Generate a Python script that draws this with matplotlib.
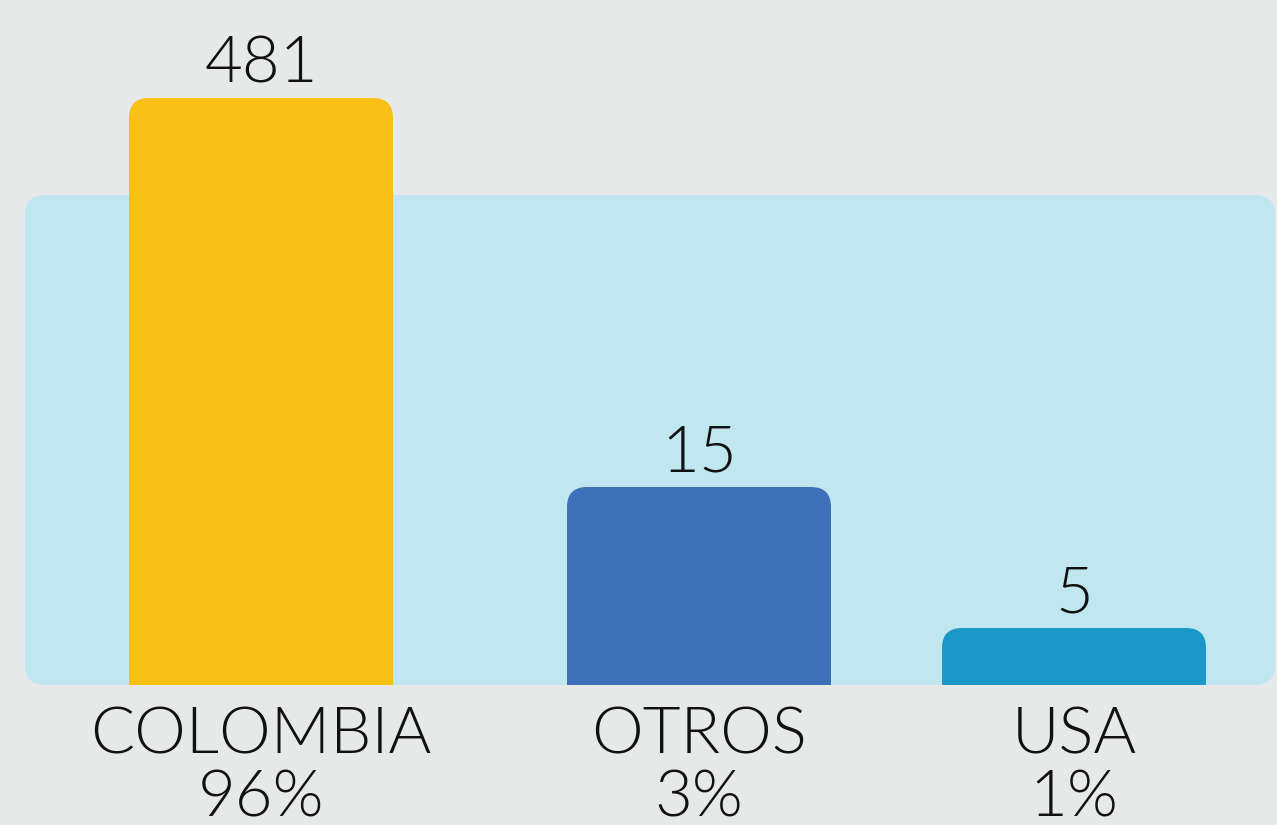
import numpy as np
import matplotlib
matplotlib.use("Agg")
import matplotlib.pyplot as plt
from matplotlib.patches import FancyBboxPatch
from matplotlib.transforms import IdentityTransform

# data
paises = ["COLOMBIA", "OTROS", "USA"]
valores = [481, 15, 5]
porcentajes = ["96%", "3%", "1%"]
colores = ["#f9c015", "#3d70b7", "#1b98c7"]

# layout (pixels of the 1277x825 picture)
W, H = 1277, 825
base_px = 685
centros = [261, 699, 1074]
ancho = 264

# the infographic does not draw heights in proportion, so map values
# onto the visual height with a piecewise scale
esc_v = [0, 5, 15, 481]
esc_px = [0, 57, 198, 587]


def fwd(v):
    return np.interp(v, esc_v, esc_px)


def inv(p):
    return np.interp(p, esc_px, esc_v)


plt.rcParams['font.family'] = ['Lato', 'DejaVu Sans']
peso = 300

fig = plt.figure(figsize=(W / 100, H / 100), dpi=100)
fig.patch.set_facecolor("#e7e9e9")

# decoration layer in pixel units
deco = fig.add_axes([0, 0, 1, 1])
deco.set_xlim(0, W)
deco.set_ylim(H, 0)
deco.axis("off")
deco.add_patch(FancyBboxPatch((25, 195), 1250, 490,
                              boxstyle="round,pad=0,rounding_size=20",
                              fc="#c0e6f0", ec="none"))

# bar axes: bottom at the baseline, top at the largest value
ax = fig.add_axes([0, (H - base_px) / H, 1, esc_px[-1] / H])
ax.set_yscale("function", functions=(fwd, inv))
ax.set_xlim(0, W)
ax.set_ylim(0, max(valores))
ax.axis("off")
ax.patch.set_alpha(0)

fig.canvas.draw()
for cx, v, c in zip(centros, valores, colores):
    (x0, y0), (x1, y1) = ax.transData.transform([(cx - ancho / 2, 0), (cx + ancho / 2, v)])
    # rounded box extended below the baseline so only the top corners show
    p = FancyBboxPatch((x0, y0 - 40), x1 - x0, y1 - y0 + 40,
                       boxstyle="round,pad=0,rounding_size=20",
                       fc=c, ec="none", transform=IdentityTransform())
    fig.add_artist(p)
    p.set_clip_path(ax.patch)
    ax.annotate(str(v), (cx, v), xytext=(0, 3), textcoords="offset points",
                ha="center", va="bottom", fontsize=47, fontweight=peso,
                color="#111111")

for cx, pais, pct in zip(centros, paises, porcentajes):
    deco.text(cx, 767, pais + "\n" + pct, ha="center", va="center",
              fontsize=47, fontweight=peso, color="#111111",
              linespacing=1.12)

fig.savefig("out.png", dpi=100, facecolor=fig.get_facecolor())
